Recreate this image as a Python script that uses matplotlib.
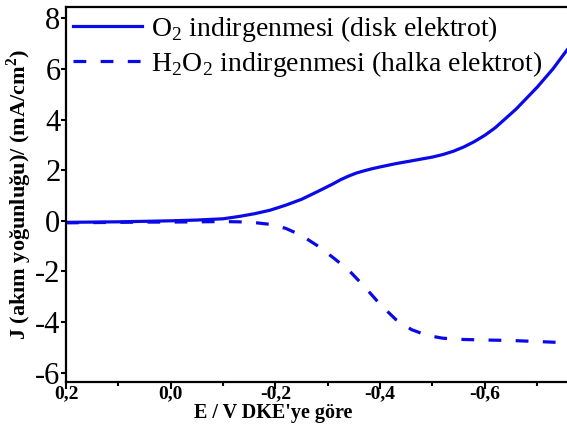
import numpy as np
import matplotlib
matplotlib.use('Agg')
import matplotlib.pyplot as plt

plt.rcParams['font.family'] = ['Liberation Serif', 'DejaVu Serif']
plt.rcParams['mathtext.fontset'] = 'custom'
plt.rcParams['mathtext.rm'] = 'Liberation Serif'
plt.rcParams['mathtext.bf'] = 'Liberation Serif:bold'

# ===== data =====
E_disk = [0.20, 0.15, 0.10, 0.05, 0.00, -0.05, -0.10, -0.13, -0.16, -0.19, -0.22,
          -0.25, -0.28, -0.31, -0.325, -0.34, -0.355, -0.37, -0.385, -0.40, -0.43,
          -0.46, -0.50, -0.52, -0.54, -0.56, -0.58, -0.60, -0.62, -0.66, -0.70,
          -0.73, -0.757]
J_disk = [-0.06, -0.05, -0.04, -0.02, 0.00, 0.03, 0.08, 0.17, 0.28, 0.42, 0.62,
          0.85, 1.15, 1.46, 1.63, 1.77, 1.89, 1.98, 2.06, 2.13, 2.26,
          2.37, 2.52, 2.62, 2.75, 2.92, 3.13, 3.38, 3.68, 4.42, 5.28,
          6.00, 6.75]

E_ring = [0.20, 0.15, 0.10, 0.05, 0.00, -0.05, -0.10, -0.13, -0.16, -0.19, -0.22,
          -0.25, -0.28, -0.31, -0.34, -0.37, -0.40, -0.43, -0.46, -0.49, -0.52,
          -0.56, -0.60, -0.65, -0.70, -0.757]
J_ring = [-0.08, -0.07, -0.06, -0.05, -0.05, -0.04, -0.03, -0.04, -0.07, -0.14, -0.30,
          -0.58, -0.98, -1.45, -1.95, -2.60, -3.30, -3.90, -4.30, -4.53, -4.64,
          -4.69, -4.71, -4.73, -4.77, -4.82]

xticks = [0.2, 0.0, -0.2, -0.4, -0.6]
xticklabels = ['0,2', '0,0', '-0,2', '-0,4', '-0,6']
yticks = [-6, -4, -2, 0, 2, 4, 6, 8]
yticklabels = ['-6', '-4', '-2', '0', '2', '4', '6', '8']

blue = '#0a0ae8'

fig = plt.figure(figsize=(5.67, 4.41), dpi=100)
ax = fig.add_axes([66/567, 59/441, 1 - 66/567, 375/441])

ax.plot(E_disk, J_disk, color=blue, lw=2.3, label=r'O$_\mathregular{2}$ indirgenmesi (disk elektrot)')
ax.plot(E_ring, J_ring, color=blue, lw=2.3, dashes=(4, 4.5),
        label=r'H$_\mathregular{2}$O$_\mathregular{2}$ indirgenmesi (halka elektrot)')

ax.set_xlim(0.2, -0.757)
ax.set_ylim(-6.37, 8.45)

ax.set_xticks(xticks)
ax.set_xticklabels(xticklabels, fontsize=14, fontweight='bold')
ax.set_xticks([0.1, -0.1, -0.3, -0.5, -0.7], minor=True)
ax.set_yticks(yticks)
ax.set_yticklabels(yticklabels, fontsize=22)

ax.tick_params(axis='x', which='major', direction='out', length=5, width=1.5, pad=-2.5)
ax.tick_params(axis='x', which='minor', direction='out', length=3, width=1.5)
ax.tick_params(axis='y', which='major', direction='out', length=3.5, width=1.5, pad=0.5)

for s in ['left', 'bottom', 'top']:
    ax.spines[s].set_linewidth(1.6)
ax.spines['right'].set_visible(False)

ax.set_xlabel("E / V DKE'ye göre", fontsize=14.5, fontweight='bold')
ax.xaxis.set_label_coords(0.413, -0.056)
ax.set_ylabel(r'J (akım yoğunluğu)/ (mA/cm$^\mathbf{2}$)', fontsize=16, fontweight='bold')
ax.yaxis.set_label_coords(-0.064, 0.5)

ax.legend(loc='upper left', bbox_to_anchor=(0.0, 1.0), frameon=False, fontsize=20,
          handlelength=2.5, handletextpad=0.3, labelspacing=0.18, borderaxespad=0.05,
          borderpad=0.2)

plt.savefig('out.png', dpi=100)
